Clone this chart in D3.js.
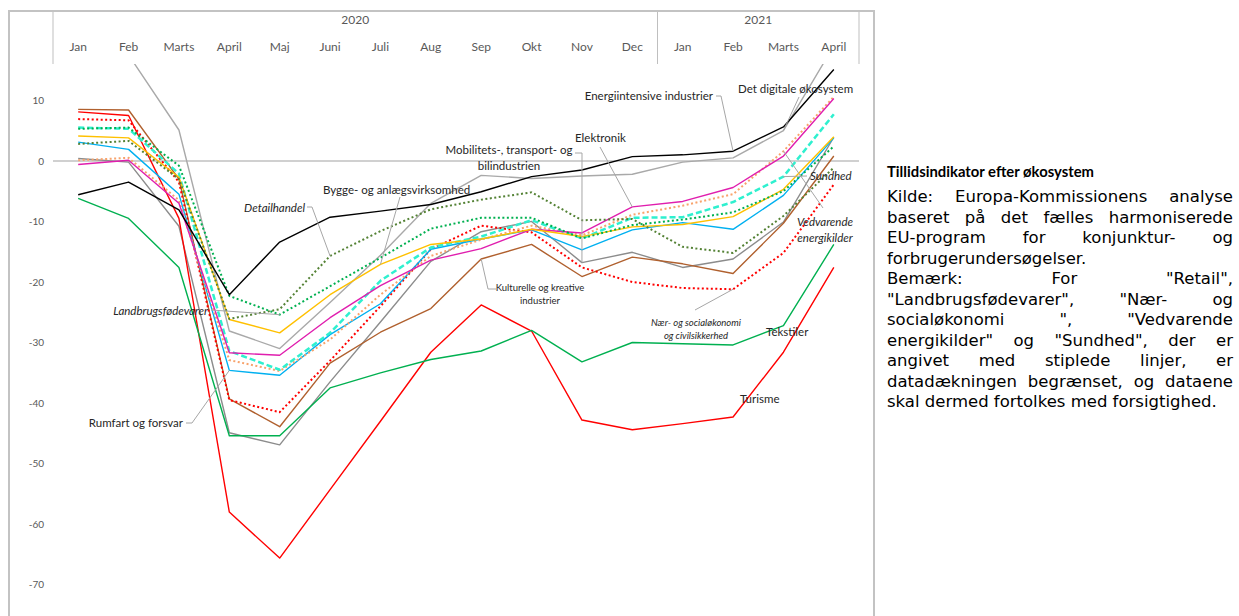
<!DOCTYPE html>
<html>
<head>
<meta charset="utf-8">
<script src="https://cdn.jsdelivr.net/npm/d3@7"></script>
<style>
body { margin: 0; background: #fff; }
svg { font-family: Lato, "Open Sans", sans-serif; }
</style>
</head>
<body>
<div id="chart"></div>
<script>
// categories (month labels) and year groups on the top axis
var months = ['Jan', 'Feb', 'Marts', 'April', 'Maj', 'Juni', 'Juli', 'Aug', 'Sep', 'Okt', 'Nov', 'Dec', 'Jan', 'Feb', 'Marts', 'April']
var years = ['2020', '2021']
var yearStart = [0, 12]
var yTicks = [10, 0, -10, -20, -30, -40, -50, -60, -70]

// series values, Jan 2020 - April 2021
var energiintensive = [-5.6, -3.5, -8.1, -22.1, -13.4, -9.3, -8.3, -7.2, -5.1, -2.6, -1.5, 0.7, 1.0, 1.6, 5.6, 15.1]
var digitale = [18.5, 17.5, 5.1, -28.1, -31.0, -23.4, -15.6, -7.0, -2.4, -2.9, -2.5, -2.2, -0.2, 0.5, 5.0, 19.0]
var elektronik = [-0.6, 0.1, -7.0, -31.7, -32.1, -25.9, -20.6, -16.4, -14.5, -11.3, -11.9, -7.6, -6.7, -4.4, 0.8, 10.3]
var mobilitet = [0.4, -0.2, -10.8, -44.9, -46.9, -36.5, -26.6, -16.6, -11.7, -10.0, -16.8, -15.1, -17.6, -16.2, -10.1, 3.9]
var bygge = [4.1, 3.8, -2.7, -26.2, -28.4, -22.1, -17.1, -13.8, -12.9, -11.3, -12.5, -10.9, -10.5, -9.2, -4.7, 4.0]
var detailhandel = [2.8, 3.3, -3.0, -26.1, -24.5, -15.7, -11.6, -8.0, -6.4, -5.2, -9.8, -9.6, -14.2, -15.2, -9.1, -1.1]
var landbrug = [5.3, 5.5, -0.8, -22.3, -25.4, -20.7, -16.0, -11.2, -9.4, -9.4, -12.8, -10.6, -9.7, -8.5, -5.0, 2.4]
var rumfart = [3.1, 1.9, -5.5, -34.6, -35.4, -28.7, -23.6, -14.6, -12.9, -11.4, -14.7, -11.4, -10.2, -11.3, -5.7, 3.8]
var kultur = [8.5, 8.4, -3.0, -39.3, -43.9, -33.4, -28.3, -24.4, -16.2, -13.8, -19.1, -15.9, -17.0, -18.6, -10.3, 0.8]
var naer = [6.9, 6.7, -3.5, -39.5, -41.5, -33.0, -24.0, -14.6, -10.7, -11.8, -17.6, -20.0, -21.0, -21.2, -15.2, -3.9]
var sundhed = [5.5, 5.3, -2.1, -31.4, -34.5, -28.4, -19.8, -14.3, -12.5, -9.8, -12.8, -9.4, -9.3, -6.8, -2.6, 7.7]
var vedvarende = [0.1, 0.5, -6.5, -32.9, -34.7, -29.5, -22.1, -15.7, -13.0, -10.7, -12.3, -8.9, -7.4, -5.5, 1.6, 10.6]
var tekstiler = [-6.2, -9.5, -17.6, -45.4, -45.4, -37.5, -35.0, -32.8, -31.4, -28.0, -33.2, -30.0, -30.2, -30.4, -27.2, -13.8]
var turisme = [8.1, 7.5, -9.5, -58.0, -65.6, -54.3, -43.0, -31.6, -23.8, -28.1, -42.8, -44.4, -43.4, -42.3, -31.6, -17.6]

// line styles per series
var series = [
  { values: mobilitet, color: '#8c8c8c', width: 1.4 },
  { values: digitale, color: '#a9a9a9', width: 1.4 },
  { values: turisme, color: '#ff0000', width: 1.4 },
  { values: tekstiler, color: '#00b050', width: 1.4 },
  { values: kultur, color: '#b0602e', width: 1.4 },
  { values: naer, color: '#ff0000', width: 2, dash: '2,2.5' },
  { values: rumfart, color: '#00b0f0', width: 1.4 },
  { values: vedvarende, color: '#f8a36c', width: 2, dash: '2,2.5' },
  { values: sundhed, color: '#2ff0cf', width: 2.5, dash: '6,3' },
  { values: elektronik, color: '#e01eae', width: 1.4 },
  { values: bygge, color: '#ffc000', width: 1.4 },
  { values: detailhandel, color: '#548235', width: 2, dash: '2,2.5' },
  { values: landbrug, color: '#00b050', width: 2, dash: '2,2.5' },
  { values: energiintensive, color: '#000000', width: 1.4 }
]

var svg = d3.select('#chart')
  .append('svg')
  .attr('width', 1239)
  .attr('height', 616)

// scales
var x = d3.scaleBand()
  .domain(d3.range(months.length))
  .range([53, 859])

var y = d3.scaleLinear()
  .domain([-75, 16])
  .range([615, 64])

function px (i) { return x(i) + x.bandwidth() / 2 }

// chart frame
svg.append('rect')
  .attr('x', 9).attr('y', 11)
  .attr('width', 865).attr('height', 640)
  .attr('fill', 'none')
  .attr('stroke', '#c3c3c3')
  .attr('stroke-width', 2)

// header dividers
var dividers = [x.range()[0]].concat(yearStart.slice(1).map(function (i) { return x(i) }), [x.range()[1]])
svg.selectAll('.divider')
  .data(dividers)
  .enter().append('line')
  .attr('class', 'divider')
  .attr('x1', function (d) { return d }).attr('x2', function (d) { return d })
  .attr('y1', 12).attr('y2', 64)
  .attr('stroke', '#bfbfbf')
  .attr('stroke-width', 1)

// year labels
svg.selectAll('.year')
  .data(years)
  .enter().append('text')
  .attr('class', 'year')
  .attr('x', function (d, i) {
    var a = x(yearStart[i])
    var b = i + 1 < yearStart.length ? x(yearStart[i + 1]) : x.range()[1]
    return (a + b) / 2
  })
  .attr('y', 24)
  .attr('text-anchor', 'middle')
  .attr('font-size', '12px')
  .attr('fill', '#595959')
  .text(function (d) { return d })

// month axis
var xAxisGroup = svg.append('g')
  .attr('transform', 'translate(0, 51)')
  .call(d3.axisBottom(x).tickSize(0).tickPadding(0).tickFormat(function (i) { return months[i] }))
xAxisGroup.select('.domain').remove()
xAxisGroup.attr('font-family', null).attr('font-size', null)
xAxisGroup.selectAll('text')
  .attr('y', 0).attr('dy', 0)
  .attr('font-size', '12px')
  .attr('fill', '#595959')

// y axis
var yAxisGroup = svg.append('g')
  .attr('transform', 'translate(46, 0)')
  .call(d3.axisLeft(y).tickValues(yTicks).tickSize(0).tickPadding(2).tickFormat(function (d) { return String(d) }))
yAxisGroup.select('.domain').remove()
yAxisGroup.attr('font-family', null).attr('font-size', null)
yAxisGroup.selectAll('text')
  .attr('font-size', '10px')
  .attr('fill', '#595959')

// zero line
svg.append('line')
  .attr('x1', x.range()[0]).attr('x2', x.range()[1])
  .attr('y1', y(0)).attr('y2', y(0))
  .attr('stroke', '#d0d0d0')
  .attr('stroke-width', 2)

// clip for the plot area
svg.append('clipPath').attr('id', 'plot-clip')
  .append('rect')
  .attr('x', x.range()[0]).attr('y', 64)
  .attr('width', x.range()[1] - x.range()[0]).attr('height', 560)

var line = d3.line()
  .x(function (d, i) { return px(i) })
  .y(function (d) { return y(d) })

svg.append('g')
  .attr('clip-path', 'url(#plot-clip)')
  .selectAll('path')
  .data(series)
  .enter().append('path')
  .attr('d', function (d) { return line(d.values) })
  .attr('fill', 'none')
  .attr('stroke', function (d) { return d.color })
  .attr('stroke-width', function (d) { return d.width })
  .attr('stroke-dasharray', function (d) { return d.dash || null })
  .attr('stroke-linejoin', 'round')

// data labels with leader lines
var labels = [
  { lines: ['Energiintensive industrier'], x: 713, y: 96, anchor: 'end', leader: [[716, 96], [721, 96]], values: energiintensive, at: 13 },
  { lines: ['Det digitale økosystem'], x: 738, y: 89, anchor: 'start', leader: [[799, 97]], values: digitale, at: 14 },
  { lines: ['Elektronik'], x: 575, y: 138, anchor: 'start', leader: [[600, 147]], values: elektronik, at: 11 },
  { lines: ['Mobilitets-, transport- og', 'bilindustrien'], x: 509, y: 150, anchor: 'middle', leader: [[575, 153], [582, 153]], values: mobilitet, at: 10 },
  { lines: ['Bygge- og anlægsvirksomhed'], x: 323, y: 190, anchor: 'start', leader: [[400, 197]], values: bygge, at: 6 },
  { lines: ['Detailhandel'], x: 305, y: 208, anchor: 'end', italic: true, leader: [[307, 207], [312, 207]], values: detailhandel, at: 5 },
  { lines: ['Landbrugsfødevarer'], x: 208, y: 311, anchor: 'end', italic: true, leader: [[211, 310]], values: landbrug, at: 4 },
  { lines: ['Rumfart og forsvar'], x: 183, y: 423, anchor: 'end', leader: [[186, 423], [192, 423]], values: rumfart, at: 3 },
  { lines: ['Kulturelle og kreative', 'industrier'], x: 540, y: 287, anchor: 'middle', size: 9.5, leader: [[496, 289], [488, 289]], values: kultur, at: 8 },
  { lines: ['Nær- og socialøkonomi', 'og civilsikkerhed'], x: 696, y: 322, anchor: 'middle', size: 9.5, italic: true, leader: [[695, 310]], values: naer, at: 13 },
  { lines: ['Sundhed'], x: 810, y: 176, anchor: 'start', italic: true, leader: [[807, 176]], values: sundhed, at: 14 },
  { lines: ['Vedvarende', 'energikilder'], x: 825, y: 222, anchor: 'middle', italic: true, leader: [[823, 208]], values: vedvarende, at: 14 },
  { lines: ['Tekstiler'], x: 766, y: 332, anchor: 'start' },
  { lines: ['Turisme'], x: 740, y: 399, anchor: 'start' }
]

svg.append('g').selectAll('path')
  .data(labels.filter(function (d) { return d.leader }))
  .enter().append('path')
  .attr('d', function (d) {
    var pts = d.leader.concat([[px(d.at), y(d.values[d.at])]])
    return d3.line()(pts)
  })
  .attr('fill', 'none')
  .attr('stroke', '#a6a6a6')
  .attr('stroke-width', 1)

var lab = svg.append('g').selectAll('text')
  .data(labels)
  .enter().append('text')
  .attr('text-anchor', function (d) { return d.anchor })
  .attr('font-size', function (d) { return (d.size || 11.5) + 'px' })
  .attr('font-style', function (d) { return d.italic ? 'italic' : 'normal' })
  .attr('fill', '#262626')

lab.selectAll('tspan')
  .data(function (d) { return d.lines.map(function (t, i) { return { t: t, d: d, i: i } }) })
  .enter().append('tspan')
  .attr('x', function (e) { return e.d.x })
  .attr('y', function (e) { return e.d.y + 4 + e.i * ((e.d.size || 11.5) * 1.4) })
  .text(function (e) { return e.t })

// note text on the right, justified
var noteX = 887
var noteW = 346
var noteFont = '"DejaVu Sans", "Open Sans", sans-serif'
var title = 'Tillidsindikator efter økosystem'
var noteLines = [
  ['Kilde: Europa-Kommissionens analyse', true],
  ['baseret på det fælles harmoniserede', true],
  ['EU-program for konjunktur- og', true],
  ['forbrugerundersøgelser.', false],
  ['Bemærk: For "Retail",', true],
  ['"Landbrugsfødevarer", "Nær- og', true],
  ['socialøkonomi ", "Vedvarende', true],
  ['energikilder" og "Sundhed", der er', true],
  ['angivet med stiplede linjer, er', true],
  ['datadækningen begrænset, og dataene', true],
  ['skal dermed fortolkes med forsigtighed.', false]
]

function measure (str, size) {
  var t = svg.append('text').attr('font-size', size + 'px').attr('font-family', noteFont).text(str)
  var w = t.node().getComputedTextLength()
  t.remove()
  return w
}

// size the body so the last (full) line spans the column as in the original
var bodySize = Math.min(16.5, 16 * noteW / measure(noteLines[10][0], 16))

svg.append('text')
  .attr('x', noteX).attr('y', 177)
  .attr('font-size', '15px')
  .attr('font-weight', 'bold')
  .attr('fill', '#000')
  .attr('textLength', 207)
  .attr('lengthAdjust', 'spacingAndGlyphs')
  .text(title)

var note = svg.append('g')
noteLines.forEach(function (ln, li) {
  var words = ln[0].split(' ')
  var yy = 202 + li * 20.5
  var widths = words.map(function (w) { return measure(w, bodySize) })
  var space = measure('a a', bodySize) - measure('aa', bodySize)
  if (ln[1] && words.length > 1) {
    space = Math.max(space, (noteW - d3.sum(widths)) / (words.length - 1))
  }
  var cx = noteX
  words.forEach(function (w, wi) {
    note.append('text')
      .attr('x', cx).attr('y', yy)
      .attr('font-size', bodySize + 'px')
      .attr('font-family', noteFont)
      .attr('fill', '#000')
      .text(w)
    cx += widths[wi] + space
  })
})
</script>
</body>
</html>
